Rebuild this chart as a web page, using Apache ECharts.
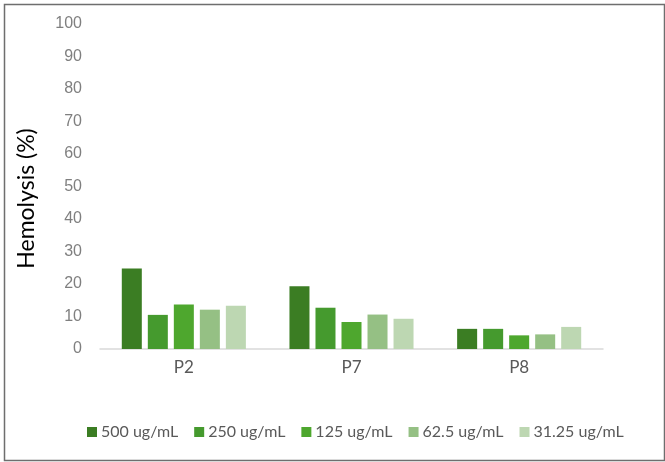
<!DOCTYPE html>
<html>
<head>
<meta charset="utf-8">
<script src="https://cdn.jsdelivr.net/npm/echarts@6/dist/echarts.min.js"></script>
<style>
html,body{margin:0;padding:0;background:#fff;}
#c{width:665px;height:462px;}
</style>
</head>
<body>
<div id="c"></div>
<script>
const categories = ['P2', 'P7', 'P8'];
const seriesNames = ['500 ug/mL', '250 ug/mL', '125 ug/mL', '62.5 ug/mL', '31.25 ug/mL'];
const s500 = [24.8, 19.3, 6.2];
const s250 = [10.5, 12.7, 6.2];
const s125 = [13.7, 8.3, 4.2];
const s62 = [12.1, 10.6, 4.5];
const s31 = [13.3, 9.3, 6.8];
const colors = ['#3b7d23', '#459a2e', '#4ea72e', '#95c084', '#bdd7b2'];
const yTicks = [0, 10, 20, 30, 40, 50, 60, 70, 80, 90, 100];

const values = [s500, s250, s125, s62, s31];
const chart = echarts.init(document.getElementById('c'), null, {renderer: 'canvas'});
chart.setOption({
  animation: false,
  backgroundColor: '#ffffff',
  graphic: [{
    type: 'rect', left: 2, top: 2,
    shape: {x: 0, y: 0, width: 660, height: 456},
    style: {fill: 'none', stroke: '#6e6e6e', lineWidth: 1.5},
    silent: true
  }],
  grid: {left: 100, right: 62, top: 24, bottom: 113},
  legend: {
    top: 419, left: 82,
    itemWidth: 10, itemHeight: 10, itemGap: 16,
    icon: 'rect',
    textStyle: {color: '#595959', fontSize: 16, fontFamily: 'Lato', padding: [0, 0, 0, -1]},
    data: seriesNames
  },
  xAxis: {
    type: 'category', data: categories,
    axisLine: {lineStyle: {color: '#d9d9d9', width: 1.5}},
    axisTick: {show: false},
    axisLabel: {color: '#595959', fontSize: 17, fontFamily: 'Lato', margin: 10}
  },
  yAxis: {
    type: 'value', min: yTicks[0], max: yTicks[yTicks.length - 1], interval: 10,
    name: 'Hemolysis (%)', nameLocation: 'middle', nameGap: 62,
    nameTextStyle: {color: '#000000', fontSize: 23, fontFamily: 'Lato', padding: [0, 24, 0, 0]},
    axisLine: {show: false}, axisTick: {show: false}, splitLine: {show: false},
    axisLabel: {color: '#7f7f7f', fontSize: 16, fontFamily: 'Liberation Sans', margin: 18}
  },
  series: seriesNames.map((n, i) => ({
    name: n, type: 'bar', data: values[i],
    barGap: '30%', barCategoryGap: '26%',
    itemStyle: {color: colors[i]}
  }))
});
</script>
</body>
</html>
